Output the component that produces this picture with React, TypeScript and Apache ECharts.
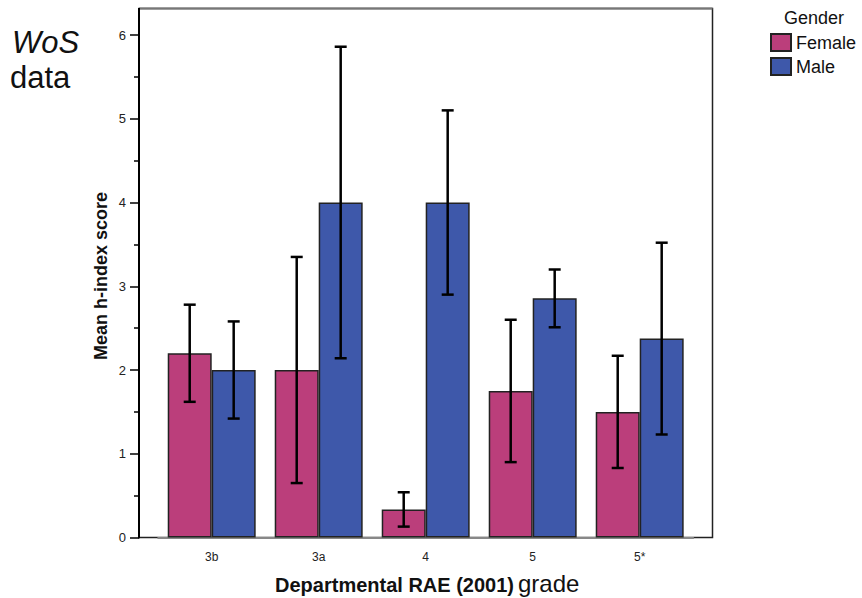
import React, { useEffect, useRef } from "react";
import * as echarts from "echarts";

const categories = ["3b", "3a", "4", "5", "5*"];
const femaleMeans = [2.2, 2.0, 0.333, 1.75, 1.5];
const maleMeans = [2.0, 4.0, 4.0, 2.857, 2.375];
const femaleLow = [1.62, 0.65, 0.13, 0.9, 0.83];
const femaleHigh = [2.78, 3.35, 0.54, 2.6, 2.17];
const maleLow = [1.42, 2.14, 2.9, 2.51, 1.23];
const maleHigh = [2.58, 5.86, 5.1, 3.2, 3.52];
const yTicks = [0, 1, 2, 3, 4, 5, 6];

const FEMALE = "#bb3e7b";
const MALE = "#3e58aa";
const GAP = 0.178;
const FONT = "Liberation Sans, Arial, Helvetica, sans-serif";

function errorSeries(name: string, lows: number[], highs: number[], sign: number) {
  return {
    type: "custom",
    name,
    z: 5,
    data: lows.map((lo, i) => [i, lo, highs[i]]),
    encode: { x: 0, y: [1, 2] },
    renderItem: (params: any, api: any) => {
      const x = api.value(0);
      const pLo = api.coord([x, api.value(1)]);
      const pHi = api.coord([x, api.value(2)]);
      const band = api.size([1, 0])[0];
      const cx = pLo[0] + (sign * band * (1 - GAP)) / 4;
      const half = 6;
      const style = { stroke: "#000", lineWidth: 2.5 };
      return {
        type: "group",
        children: [
          { type: "line", shape: { x1: cx, y1: pLo[1], x2: cx, y2: pHi[1] }, style },
          { type: "line", shape: { x1: cx - half, y1: pHi[1], x2: cx + half, y2: pHi[1] }, style },
          { type: "line", shape: { x1: cx - half, y1: pLo[1], x2: cx + half, y2: pLo[1] }, style },
        ],
      };
    },
  };
}

export default function App() {
  const ref = useRef<HTMLDivElement>(null);
  useEffect(() => {
    if (!ref.current) return;
    const chart = echarts.init(ref.current, null, { renderer: "svg" });
    const barStyle = (color: string) => ({ color, borderColor: "#222", borderWidth: 1.5 });
    chart.setOption({
      animation: false,
      textStyle: { fontFamily: FONT },
      grid: { left: 158.2, right: 168.8, top: 35, bottom: 60.5 },
      legend: {
        data: ["Female", "Male"],
        orient: "vertical",
        left: 765,
        top: 28,
        itemWidth: 20,
        itemHeight: 17,
        itemGap: 5,
        icon: "rect",
        textStyle: { fontSize: 18, color: "#111", fontFamily: FONT },
      },
      xAxis: {
        type: "category",
        data: categories,
        axisLine: { lineStyle: { color: "#888", width: 2 } },
        axisTick: { alignWithLabel: true, length: 9, lineStyle: { color: "#000", width: 1.5 } },
        axisLabel: { fontSize: 12, color: "#222", margin: 13, fontFamily: FONT },
      },
      yAxis: {
        type: "value",
        min: yTicks[0],
        max: yTicks[yTicks.length - 1],
        interval: 1,
        offset: 19.2,
        splitLine: { show: false },
        axisLine: { show: true, lineStyle: { color: "#000", width: 2 } },
        axisTick: { show: true, length: 9, lineStyle: { color: "#000", width: 1.5 } },
        minorTick: { show: true, splitNumber: 2, length: 5, lineStyle: { color: "#000", width: 1.5 } },
        axisLabel: { fontSize: 13, color: "#222", margin: 13, fontFamily: FONT },
      },
      graphic: [
        {
          type: "rect",
          z: -1,
          shape: { x: 139, y: 8.5, width: 573.5, height: 529 },
          style: { fill: "none", stroke: "#222", lineWidth: 1.5 },
        },
        {
          type: "line",
          z: 1,
          shape: { x1: 139, y1: 8.5, x2: 712.5, y2: 8.5 },
          style: { stroke: "#777", lineWidth: 2 },
        },
        {
          type: "line",
          z: 1,
          shape: { x1: 139, y1: 8, x2: 139, y2: 36 },
          style: { stroke: "#000", lineWidth: 2 },
        },
        {
          type: "text",
          x: 12,
          y: 42,
          style: { text: "WoS", font: "italic 31px " + FONT, fill: "#111", verticalAlign: "middle" },
        },
        {
          type: "text",
          x: 10,
          y: 77,
          style: { text: "data", font: "31px " + FONT, fill: "#111", verticalAlign: "middle" },
        },
        {
          type: "text",
          x: 814,
          y: 18,
          style: { text: "Gender", font: "18px " + FONT, fill: "#111", align: "center", verticalAlign: "middle" },
        },
        {
          type: "text",
          x: 101,
          y: 276,
          rotation: Math.PI / 2,
          style: {
            text: "Mean h-index score",
            font: "bold 18px " + FONT,
            fill: "#111",
            align: "center",
            verticalAlign: "middle",
          },
        },
        {
          type: "text",
          x: 514,
          y: 585,
          style: {
            text: "Departmental RAE (2001)",
            font: "bold 20px " + FONT,
            fill: "#111",
            align: "right",
            verticalAlign: "middle",
          },
        },
        {
          type: "text",
          x: 518,
          y: 583,
          style: {
            text: "grade",
            font: "24px " + FONT,
            fill: "#111",
            align: "left",
            verticalAlign: "middle",
          },
        },
      ],
      series: [
        {
          type: "bar",
          name: "Female",
          data: femaleMeans,
          barGap: "0%",
          barCategoryGap: GAP * 100 + "%",
          itemStyle: barStyle(FEMALE),
        },
        {
          type: "bar",
          name: "Male",
          data: maleMeans,
          barGap: "0%",
          barCategoryGap: GAP * 100 + "%",
          itemStyle: barStyle(MALE),
        },
        errorSeries("Female CI", femaleLow, femaleHigh, -1),
        errorSeries("Male CI", maleLow, maleHigh, 1),
      ],
    });
    return () => chart.dispose();
  }, []);
  return (
    <div
      ref={ref}
      style={{ position: "absolute", left: 0, top: 0, width: 862, height: 598, overflow: "hidden" }}
    />
  );
}
